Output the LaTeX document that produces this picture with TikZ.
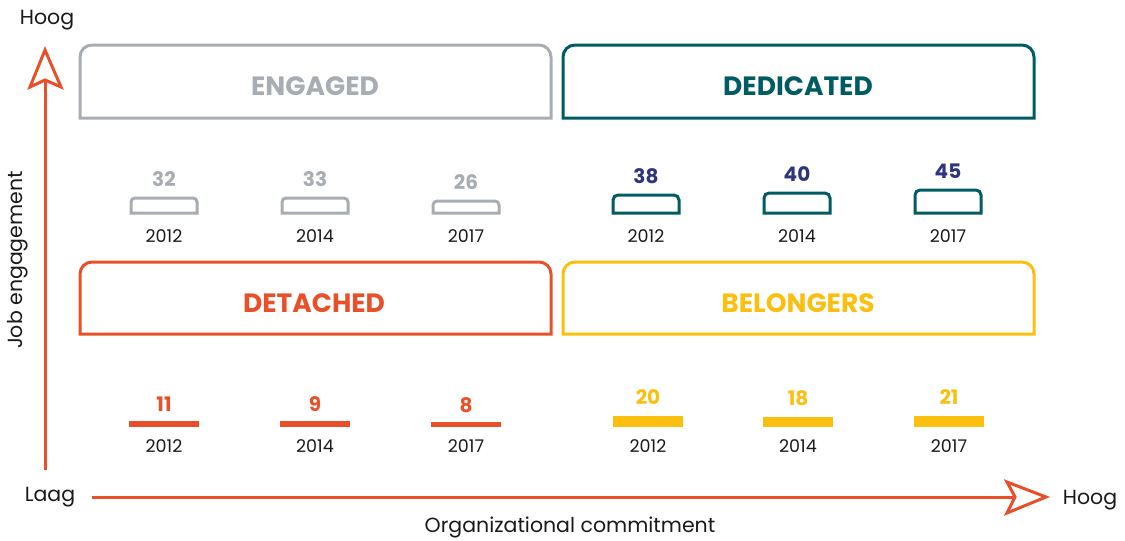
\documentclass[tikz,border=0pt]{standalone}
\usepackage{fontspec}
\setmainfont{Poppins}
\definecolor{cgray}{HTML}{A7ADB3}
\definecolor{cteal}{HTML}{005B63}
\definecolor{corange}{HTML}{E8502A}
\definecolor{cyellow}{HTML}{FBBF0F}
\definecolor{cnavy}{HTML}{2E3580}
\definecolor{ctext}{HTML}{1A1A1A}
\begin{document}
\begin{tikzpicture}[x=1pt,y=-1pt,
  bigbox/.style={line width=3pt},
  quadlabel/.style={font=\fontsize{26.5}{30}\selectfont\bfseries},
  numlabel/.style={font=\fontsize{20}{24}\selectfont\bfseries},
  yearlabel/.style={font=\fontsize{17.5}{20}\selectfont, text=ctext},
  axislabel/.style={font=\fontsize{20.5}{24}\selectfont, text=ctext},
  axisline/.style={corange, line width=3pt},
  arrowhead/.style={corange, line width=3pt, line join=miter}]
\useasboundingbox (0,0) rectangle (1125,541);

% quadrant boxes
\draw[bigbox,cgray] (80,118) [rounded corners=12pt] -- (80,45) -- (551,45) [sharp corners] -- (551,118) -- cycle;
\node[quadlabel,text=cgray] (engaged) at (315,86) {ENGAGED};
\draw[bigbox,cteal] (563,118) [rounded corners=12pt] -- (563,45) -- (1034,45) [sharp corners] -- (1034,118) -- cycle;
\node[quadlabel,text=cteal] (dedicated) at (798,86) {DEDICATED};
\draw[bigbox,corange] (80,334) [rounded corners=12pt] -- (80,262) -- (551,262) [sharp corners] -- (551,334) -- cycle;
\node[quadlabel,text=corange] (detached) at (314,303) {DETACHED};
\draw[bigbox,cyellow] (563,334) [rounded corners=12pt] -- (563,262) -- (1034,262) [sharp corners] -- (1034,334) -- cycle;
\node[quadlabel,text=cyellow] (belongers) at (798,303) {BELONGERS};

% engaged bars
\foreach \cx/\top/\num/\yr [count=\i] in {164/198/32/2012, 315/198/33/2014, 466/201/26/2017}{
  \draw[cgray,line width=3pt] (\cx-33,213) [rounded corners=4pt] -- (\cx-33,\top) -- (\cx+33,\top) [sharp corners] -- (\cx+33,213) -- cycle;
  \node[numlabel,text=cgray] (en\i) at (\cx,\top-19) {\num};
  \node[yearlabel] (eny\i) at (\cx,236) {\yr};
}
% dedicated bars
\foreach \cx/\top/\num/\yr [count=\i] in {646/195/38/2012, 797/193/40/2014, 948/190/45/2017}{
  \draw[cteal,line width=3pt] (\cx-33,213) [rounded corners=5pt] -- (\cx-33,\top) -- (\cx+33,\top) [sharp corners] -- (\cx+33,213) -- cycle;
  \node[numlabel,text=cnavy] (de\i) at (\cx,\top-19) {\num};
  \node[yearlabel] (dey\i) at (\cx,236) {\yr};
}
% detached bars
\foreach \cx/\top/\num/\yr [count=\i] in {164/421/11/2012, 315/421/9/2014, 466/422/8/2017}{
  \fill[corange] (\cx-35,\top) rectangle (\cx+35,427);
  \node[numlabel,text=corange] (dt\i) at (\cx,\top-17) {\num};
  \node[yearlabel] (dty\i) at (\cx,446) {\yr};
}
% belongers bars
\foreach \cx/\top/\num/\yr [count=\i] in {648/416/20/2012, 798/417/18/2014, 949/416/21/2017}{
  \fill[cyellow] (\cx-35,\top) rectangle (\cx+35,427);
  \node[numlabel,text=cyellow] (be\i) at (\cx,\top-19) {\num};
  \node[yearlabel] (bey\i) at (\cx,446) {\yr};
}

% axes
\coordinate (yorig) at (45,470);
\coordinate (ytip) at (45,50);
\coordinate (ynotch) at (45,80);
\coordinate (yl) at (30,87);
\coordinate (yr) at (61,87);
\coordinate (xorig) at (92,497);
\coordinate (xtip) at (1046,497);
\coordinate (xnotch) at (1015,497);
\coordinate (xu) at (1007,482);
\coordinate (xd) at (1007,513);
\draw[axisline] (yorig) -- (ynotch);
\draw[arrowhead] (ytip) -- (yr) -- (ynotch) -- (yl) -- cycle;
\draw[axisline] (xorig) -- (xnotch);
\draw[arrowhead] (xtip) -- (xd) -- (xnotch) -- (xu) -- cycle;

\node[axislabel] (yhigh) at (47,20) {Hoog};
\node[axislabel] (ylow) at (50,497) {Laag};
\node[axislabel] (xhigh) at (1090,500) {Hoog};
\node[axislabel] (xtitle) at (570,527) {Organizational commitment};
\node[axislabel,rotate=90] (ytitle) at (18,260) {Job engagement};
\end{tikzpicture}
\end{document}
